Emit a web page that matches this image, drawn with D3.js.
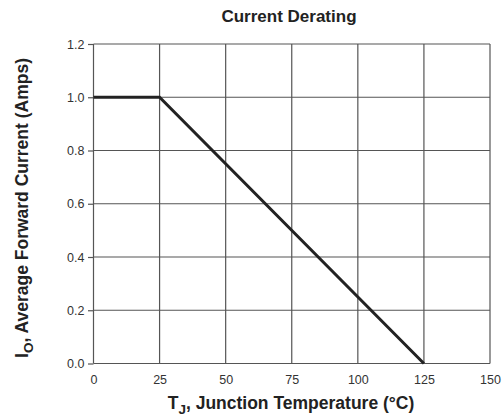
<!DOCTYPE html>
<html lang="en">
<head>
<meta charset="UTF-8">
<title>Current Derating</title>
<style>
  body { margin: 0; background: #fff; }
  text { font-family: "Liberation Sans", Arial, sans-serif; }
</style>
</head>
<body>
<script src="https://cdn.jsdelivr.net/npm/d3@7"></script>
<script>
// data
var tempC = [0, 25, 125];
var currentA = [1.0, 1.0, 0.0];
var xTicks = [0, 25, 50, 75, 100, 125, 150];
var yTicks = [0.0, 0.2, 0.4, 0.6, 0.8, 1.0, 1.2];

var w = 504, h = 420;
var plotL = 93.5, plotR = 490, plotT = 44, plotB = 363.5;

var svg = d3.select("body").append("svg")
    .attr("width", w).attr("height", h);

var x = d3.scaleLinear().domain([0, 150]).range([plotL, plotR]);
var y = d3.scaleLinear().domain([0, 1.2]).range([plotB, plotT]);

// grid
var grid = svg.append("g").attr("stroke", "#555").attr("stroke-width", 1.2);
grid.selectAll("line.v").data(xTicks).enter().append("line")
    .attr("class", "v")
    .attr("x1", d => x(d)).attr("x2", d => x(d))
    .attr("y1", plotT).attr("y2", plotB);
grid.selectAll("line.h").data(yTicks).enter().append("line")
    .attr("class", "h")
    .attr("x1", plotL).attr("x2", plotR)
    .attr("y1", d => y(d)).attr("y2", d => y(d));

// y axis ticks + labels
var yAxis = d3.axisLeft(y).tickValues(yTicks).tickFormat(d3.format(".1f"))
    .tickSize(5.5).tickPadding(3.5);
var ya = svg.append("g").attr("transform", "translate(" + plotL + ",0)").call(yAxis);
ya.select(".domain").remove();
ya.selectAll("line").attr("stroke", "#555").attr("stroke-width", 1.2);
ya.selectAll("text").attr("font-size", 12.5).attr("fill", "#333")
    .style("font-family", "'Liberation Sans', Arial, sans-serif");

// x axis labels
var xAxis = d3.axisBottom(x).tickValues(xTicks).tickSize(0).tickPadding(11.5);
var xa = svg.append("g").attr("transform", "translate(0," + plotB + ")").call(xAxis);
xa.select(".domain").remove();
xa.selectAll("text").attr("font-size", 12.5).attr("fill", "#333")
    .style("font-family", "'Liberation Sans', Arial, sans-serif");

// derating curve
var line = d3.line().x((d, i) => x(tempC[i])).y(d => y(d));
svg.append("path").datum(currentA)
    .attr("d", line)
    .attr("fill", "none").attr("stroke", "#222").attr("stroke-width", 3);

// titles
svg.append("text").attr("x", 289).attr("y", 22)
    .attr("text-anchor", "middle").attr("font-size", 17).attr("font-weight", "bold")
    .attr("fill", "#222").text("Current Derating");

var xt = svg.append("text").attr("x", 291).attr("y", 409)
    .attr("text-anchor", "middle").attr("font-size", 17.5).attr("font-weight", "bold")
    .attr("fill", "#222");
xt.append("tspan").text("T");
xt.append("tspan").attr("dy", 5).attr("font-size", 13.5).text("J");
xt.append("tspan").attr("dy", -5).text(", Junction Temperature (°C)");

var yt = svg.append("text").attr("transform", "translate(28,208) rotate(-90)")
    .attr("text-anchor", "middle").attr("font-size", 17.5).attr("font-weight", "bold")
    .attr("fill", "#222");
yt.append("tspan").text("I");
yt.append("tspan").attr("dy", 5).attr("font-size", 13.5).text("O");
yt.append("tspan").attr("dy", -5).text(", Average Forward Current (Amps)");
</script>
</body>
</html>
